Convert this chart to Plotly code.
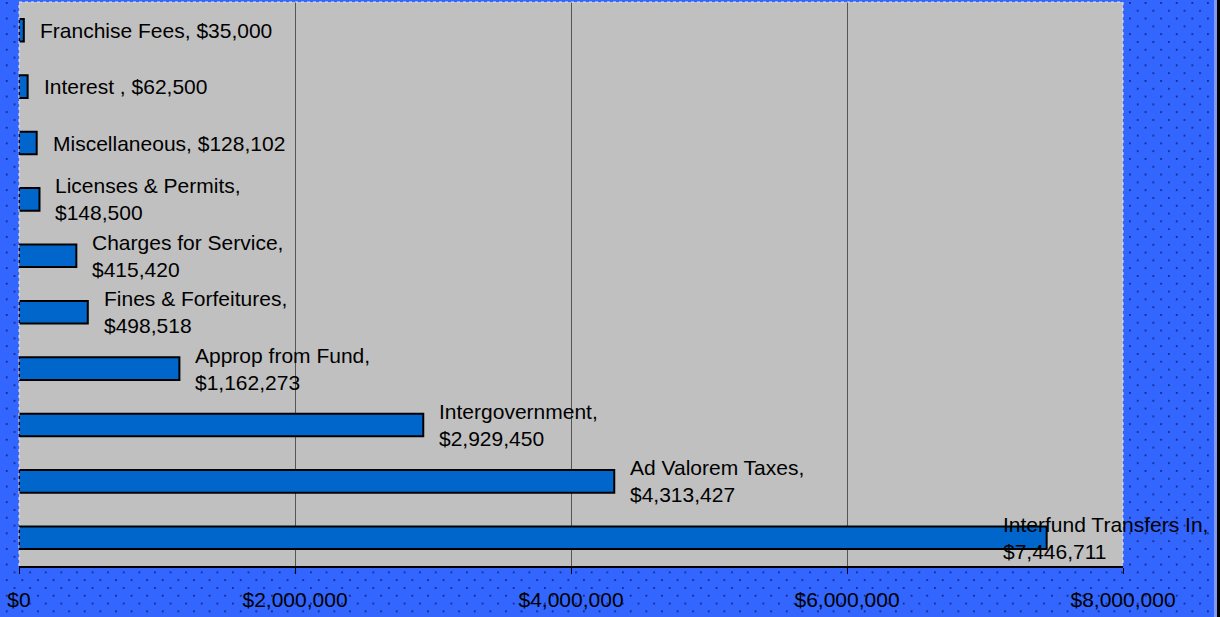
import base64
import plotly.graph_objects as go

# Revenue sources, listed bottom to top
categories = [
    "Interfund Transfers In",
    "Ad Valorem Taxes",
    "Intergovernment",
    "Approp from Fund",
    "Fines & Forfeitures",
    "Charges for Service",
    "Licenses & Permits",
    "Miscellaneous",
    "Interest ",
    "Franchise Fees",
]
revenues = [7446711, 4313427, 2929450, 1162273, 498518, 415420, 148500, 128102, 62500, 35000]
# whether the label breaks onto a second line after the name
label_wrapped = [True, True, True, True, True, True, True, False, False, False]

tick_values = [0, 2000000, 4000000, 6000000, 8000000]
tick_labels = ["$0", "$2,000,000", "$4,000,000", "$6,000,000", "$8,000,000"]

FONT = "Liberation Sans, Arial, sans-serif"
W, H = 1220, 617
ML, MR, MT, MB = 19, 97, 2, 51
PW, PH = W - ML - MR, H - MT - MB

# dotted blue page background as an inline SVG pattern
svg = f"""<svg xmlns="http://www.w3.org/2000/svg" width="{W}" height="{H}" viewBox="0 0 {W} {H}">
<defs><pattern id="d" x="5.8" y="2" width="15.6" height="15.6" patternUnits="userSpaceOnUse">
<circle cx="0.9" cy="0.9" r="1.0" fill="#142284"/>
<circle cx="8.7" cy="8.7" r="1.0" fill="#142284"/>
</pattern></defs>
<rect width="{W}" height="{H}" fill="#3366ff"/>
<rect width="{W}" height="{H}" fill="url(#d)"/>
<rect x="1214" y="0" width="3" height="{H}" fill="#7f9af2"/>
<rect x="1217" y="0" width="3" height="{H}" fill="#000000"/>
</svg>"""
bg_uri = "data:image/svg+xml;base64," + base64.b64encode(svg.encode()).decode()

fig = go.Figure()
fig.add_trace(go.Bar(
    y=categories,
    x=revenues,
    orientation="h",
    marker=dict(color="#0066cc", line=dict(color="#000000", width=2)),
    hoverinfo="skip",
))

for name, val, wrapped in zip(categories, revenues, label_wrapped):
    sep = "<br>" if wrapped else " "
    text = f"{name},{sep}${val:,}"
    shift = -46 if val == max(revenues) else 14
    fig.add_annotation(
        x=val, y=name, xref="x", yref="y",
        text=text, showarrow=False,
        xanchor="left", yanchor="middle", align="left",
        xshift=shift,
        font=dict(family=FONT, size=21, color="#000000"),
    )

# grey plotting area, painted over the page pattern
fig.add_shape(
    type="rect", xref="paper", yref="paper", x0=0, x1=1, y0=0, y1=1,
    fillcolor="#c0c0c0", line=dict(width=0), layer="below",
)
# dotted light border on the left, top and right of the plotting area
fig.add_shape(
    type="path", xref="paper", yref="paper", path="M0,0 L0,1 L1,1 L1,0",
    line=dict(color="#e6e6e6", width=1, dash="dot"), layer="above",
)

fig.add_layout_image(
    source=bg_uri, xref="paper", yref="paper",
    x=-ML / PW, y=1 + MT / PH, sizex=W / PW, sizey=H / PH,
    xanchor="left", yanchor="top", sizing="stretch", layer="below",
)

fig.update_layout(
    width=W, height=H,
    margin=dict(l=ML, r=MR, t=MT, b=MB, pad=0),
    paper_bgcolor="#3366ff",
    plot_bgcolor="rgba(0,0,0,0)",
    showlegend=False,
    bargap=0.6,
    font=dict(family=FONT, size=21, color="#000000"),
    xaxis=dict(
        range=[0, 8000000],
        tickvals=tick_values, ticktext=tick_labels,
        showgrid=True, gridcolor="#555555", gridwidth=1,
        zeroline=False,
        showline=True, linecolor="#000000", linewidth=2,
        ticks="outside", ticklen=6, tickcolor="#000000", tickwidth=1,
        ticklabelstandoff=8,
        tickfont=dict(family=FONT, size=21, color="#000000"),
    ),
    yaxis=dict(
        showticklabels=False, showgrid=False, zeroline=False,
        showline=False, ticks="",
    ),
)

fig.write_html("out.html")
